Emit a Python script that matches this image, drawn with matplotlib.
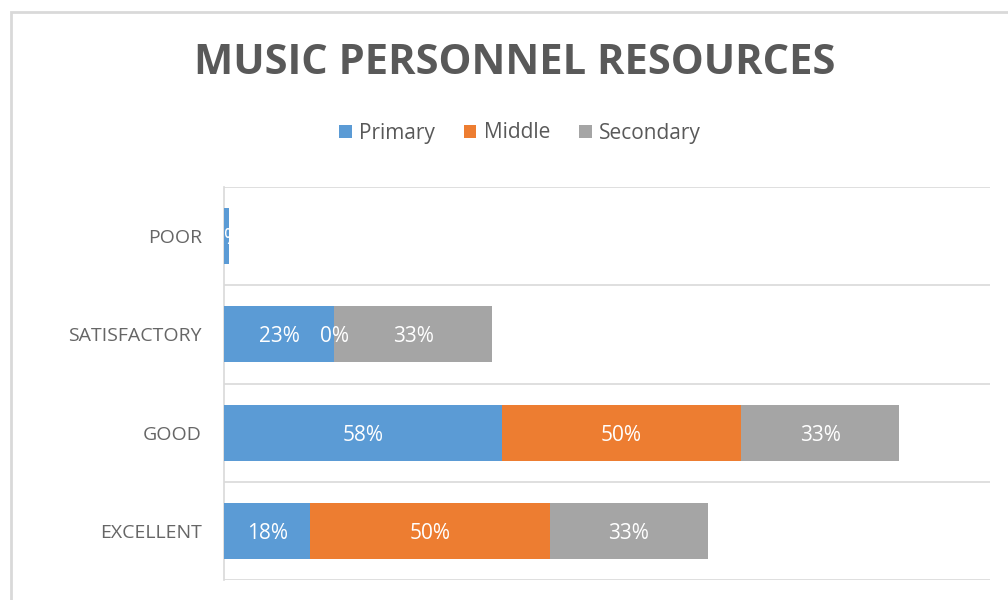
import matplotlib
matplotlib.use("Agg")
import matplotlib.pyplot as plt
from matplotlib.patches import Rectangle
import numpy as np

plt.rcParams['font.family'] = ['Open Sans', 'DejaVu Sans']

categories = ["EXCELLENT", "GOOD", "SATISFACTORY", "POOR"]
series_names = ["Primary", "Middle", "Secondary"]
primary = [18, 58, 23, 1]
middle = [50, 50, 0, None]
secondary = [33, 33, 33, None]
colors = ["#5B9BD5", "#ED7D31", "#A5A5A5"]

fig = plt.figure(figsize=(10.08, 6.0), dpi=100)
W, H = 1008, 600
ax = fig.add_axes([224 / W, 1 - 580 / H, (990 - 224) / W, (580 - 187) / H])

# chart frame
fig.patches.append(Rectangle((11 / W, -0.05), 1.2, 1 - 12 / H + 0.05, transform=fig.transFigure,
                             fill=False, edgecolor="#D9D9D9", linewidth=2.0))

y = np.arange(len(categories))
left = np.zeros(len(categories))
for name, vals, col in zip(series_names, [primary, middle, secondary], colors):
    v = np.array([np.nan if x is None else x for x in vals], dtype=float)
    bars = ax.barh(y, np.nan_to_num(v), left=left, height=0.57, color=col, label=name, zorder=3)
    for i, b in enumerate(bars):
        if not np.isnan(v[i]):
            ax.text(left[i] + v[i] / 2, y[i], f"{int(v[i])}%", ha="center", va="center_baseline",
                    color="white", fontsize=15, zorder=4)
    left = left + np.nan_to_num(v)

ax.set_xlim(0, 160)
ax.set_ylim(-0.5, len(categories) - 0.5)
ax.set_yticks(y)
ax.set_yticklabels(categories, fontsize=14, color="#666666")
ax.tick_params(axis="y", length=0, pad=16)
ax.set_xticks([])
for b in np.arange(-0.5, len(categories), 1.0):
    ax.axhline(b, color="#D9D9D9", linewidth=1.2, zorder=1)
for s in ["top", "right", "bottom"]:
    ax.spines[s].set_visible(False)
ax.spines["left"].set_color("#D9D9D9")
ax.spines["left"].set_linewidth(1.2)

fig.text(515 / W, 1 - 63 / H, "MUSIC PERSONNEL RESOURCES", ha="center", va="center",
         fontsize=30, fontweight="bold", color="#595959")

handles, labels = ax.get_legend_handles_labels()
fig.legend(handles, labels, loc="center", bbox_to_anchor=(520 / W, 1 - 133 / H), ncol=3,
           frameon=False, fontsize=15, labelcolor="#595959", handlelength=0.6, handleheight=0.6,
           handletextpad=0.35, columnspacing=1.4)

fig.savefig("out.png", dpi=100)
